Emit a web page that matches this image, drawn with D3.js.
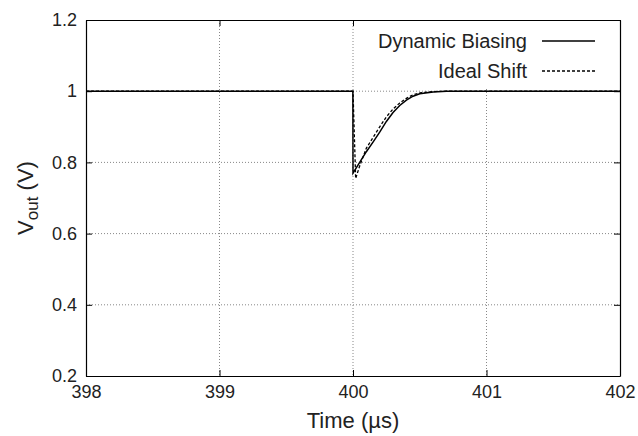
<!DOCTYPE html>
<html>
<head>
<meta charset="utf-8">
<script src="https://cdn.jsdelivr.net/npm/d3@7"></script>
<style>
  body { margin: 0; background: #fff; }
  svg { font-family: "Liberation Sans", Arial, Helvetica, sans-serif; }
</style>
</head>
<body>
<script>
// ticks
var xTicks = [398, 399, 400, 401, 402]
var yTicks = [0.2, 0.4, 0.6, 0.8, 1, 1.2]

// series (time in us, Vout in V)
var dynTime = [398, 399.999, 400, 400.05, 400.1, 400.15, 400.2, 400.25, 400.3, 400.35, 400.4, 400.45, 400.5, 400.6, 400.7, 402]
var dynVout = [1, 1, 0.77, 0.80, 0.83, 0.857, 0.885, 0.915, 0.94, 0.96, 0.975, 0.986, 0.993, 0.998, 1, 1]

var idealTime = [398, 400, 400.02, 400.05, 400.1, 400.15, 400.2, 400.25, 400.3, 400.35, 400.4, 400.45, 400.5, 400.6, 400.7, 402]
var idealVout = [1, 1, 0.755, 0.79, 0.84, 0.87, 0.9, 0.928, 0.95, 0.967, 0.98, 0.99, 0.995, 0.999, 1, 1]

var W = 638, H = 436
var margin = {top: 20, right: 18, bottom: 60, left: 86}
var w = W - margin.left - margin.right,
    h = H - margin.top - margin.bottom

var svg = d3.select("body").append("svg")
  .attr("width", W)
  .attr("height", H)

var g = svg.append("g")
  .attr("transform", "translate(" + margin.left + "," + margin.top + ")")

var xScale = d3.scaleLinear().domain([398, 402]).range([0, w])
var yScale = d3.scaleLinear().domain([0.2, 1.2]).range([h, 0])

//grid ---------------------------------------------
g.append("g")
  .attr("class", "grid")
  .selectAll("line")
  .data(xTicks.slice(1, -1))
  .enter().append("line")
  .attr("x1", function(d) { return xScale(d) })
  .attr("x2", function(d) { return xScale(d) })
  .attr("y1", 0).attr("y2", h)

g.select(".grid")
  .selectAll(".hy")
  .data(yTicks.slice(1, -1))
  .enter().append("line")
  .attr("class", "hy")
  .attr("x1", 0).attr("x2", w)
  .attr("y1", function(d) { return yScale(d) })
  .attr("y2", function(d) { return yScale(d) })

g.selectAll(".grid line")
  .attr("stroke", "#888")
  .attr("stroke-width", 1)
  .attr("stroke-dasharray", "1,2")

//axes (ticks point inward, mirrored) ---------------
var fmt = function(d) { return d3.format("")(d) }

var xAxis = g.append("g")
  .attr("transform", "translate(0," + h + ")")
  .call(d3.axisBottom(xScale).tickValues(xTicks).tickFormat(fmt).tickSize(-6).tickSizeOuter(0).tickPadding(9))
g.append("g")
  .call(d3.axisTop(xScale).tickValues(xTicks).tickFormat("").tickSize(-6).tickSizeOuter(0))

var yAxis = g.append("g")
  .call(d3.axisLeft(yScale).tickValues(yTicks).tickFormat(fmt).tickSize(-6).tickSizeOuter(0).tickPadding(9))
g.append("g")
  .attr("transform", "translate(" + w + ",0)")
  .call(d3.axisRight(yScale).tickValues(yTicks).tickFormat("").tickSize(-6).tickSizeOuter(0))

g.selectAll(".domain").attr("stroke", "#000").attr("stroke-width", 1.2)
g.selectAll(".tick line").attr("stroke", "#000")
g.selectAll(".tick text")
  .attr("font-family", "Liberation Sans, Arial, sans-serif")
  .attr("font-size", 18)
  .attr("fill", "#222")

//legend box (opaque, hides grid) -------------------
g.append("rect")
  .attr("x", 290).attr("y", 1)
  .attr("width", 240).attr("height", 66)
  .attr("fill", "#fff")

//lines ---------------------------------------------
var line = d3.line()
  .x(function(d) { return xScale(d[0]) })
  .y(function(d) { return yScale(d[1]) })

var dynData = d3.zip(dynTime, dynVout)
var idealData = d3.zip(idealTime, idealVout)

g.append("path")
  .datum(idealData)
  .attr("d", line)
  .attr("fill", "none")
  .attr("stroke", "#000")
  .attr("stroke-width", 1.3)
  .attr("stroke-dasharray", "3,2")

g.append("path")
  .datum(dynData)
  .attr("d", line)
  .attr("fill", "none")
  .attr("stroke", "#000")
  .attr("stroke-width", 1.5)

//legend --------------------------------------------
var legend = [
  {name: "Dynamic Biasing", dash: null, y: 21},
  {name: "Ideal Shift", dash: "3,2", y: 51}
]
legend.forEach(function(l) {
  g.append("text")
    .attr("x", 441).attr("y", l.y + 7)
    .attr("text-anchor", "end")
    .attr("font-size", 20)
    .attr("fill", "#222")
    .text(l.name)
  g.append("line")
    .attr("x1", 456).attr("x2", 509)
    .attr("y1", l.y).attr("y2", l.y)
    .attr("stroke", "#000")
    .attr("stroke-width", 1.3)
    .attr("stroke-dasharray", l.dash)
})

//axis labels ---------------------------------------
svg.append("text")
  .attr("x", margin.left + w / 2)
  .attr("y", 428)
  .attr("text-anchor", "middle")
  .attr("font-size", 22)
  .attr("fill", "#222")
  .text("Time (\u00b5s)")

var yl = svg.append("text")
  .attr("transform", "translate(33," + (margin.top + h / 2) + ") rotate(-90)")
  .attr("text-anchor", "middle")
  .attr("font-size", 22)
  .attr("fill", "#222")
yl.append("tspan").text("V")
yl.append("tspan").attr("font-size", 17).attr("dy", 5).text("out")
yl.append("tspan").attr("dy", -5).text(" (V)")
</script>
</body>
</html>
